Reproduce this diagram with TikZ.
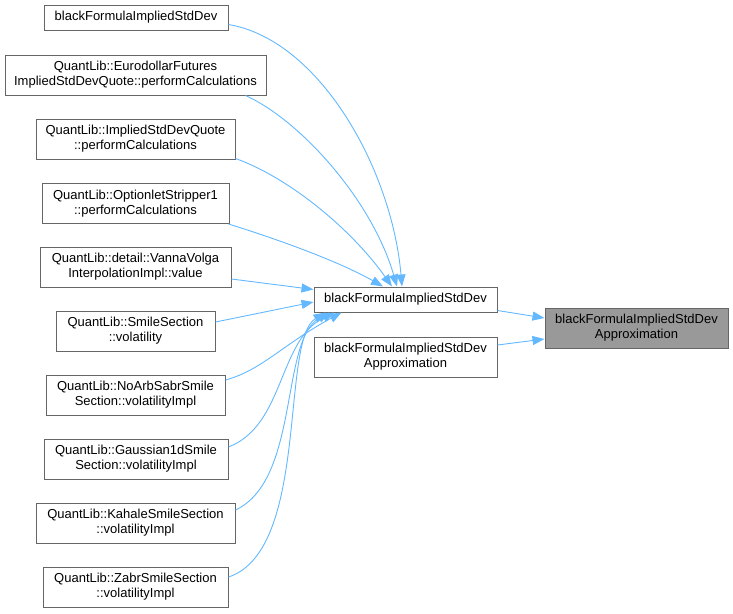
\documentclass[tikz,border=0pt]{standalone}
\usepackage{fontspec}
\setmainfont{Liberation Sans}
\usetikzlibrary{arrows.meta}
\definecolor{edgeblue}{HTML}{63B8FF}
\definecolor{boxgray}{HTML}{666666}
\definecolor{fillgray}{HTML}{999999}
\tikzset{
  fn/.style={draw=boxgray, line width=1pt, fill=white, inner sep=0pt, align=center,
    font=\fontsize{13pt}{15pt}\selectfont, text=black},
  cur/.style={fn, fill=fillgray},
  call/.style={draw=edgeblue, line width=0.9pt, -{Triangle[length=12pt,width=9pt]}},
}
\begin{document}
\begin{tikzpicture}[x=1pt,y=-1pt]
\useasboundingbox (0,0) rectangle (733,613);
% left nodes
\node[fn, minimum width=184pt, minimum height=25pt] (n1) at (136,17.5) {blackFormulaImpliedStdDev};
\node[fn, minimum width=261pt, minimum height=40pt] (n2) at (135.5,75) {QuantLib::EurodollarFutures\\ImpliedStdDevQuote::performCalculations};
\node[fn, minimum width=199pt, minimum height=40pt] (n3) at (135.5,139) {QuantLib::ImpliedStdDevQuote\\::performCalculations};
\node[fn, minimum width=187pt, minimum height=40pt] (n4) at (135.5,203.5) {QuantLib::OptionletStripper1\\::performCalculations};
\node[fn, minimum width=191pt, minimum height=40pt] (n5) at (135.5,267) {QuantLib::detail::VannaVolga\\InterpolationImpl::value};
\node[fn, minimum width=159pt, minimum height=40pt] (n6) at (135.5,331) {QuantLib::SmileSection\\::volatility};
\node[fn, minimum width=179pt, minimum height=40pt] (n7) at (135.5,395) {QuantLib::NoArbSabrSmile\\Section::volatilityImpl};
\node[fn, minimum width=184pt, minimum height=40pt] (n8) at (136,459) {QuantLib::Gaussian1dSmile\\Section::volatilityImpl};
\node[fn, minimum width=199pt, minimum height=40pt] (n9) at (135.5,523) {QuantLib::KahaleSmileSection\\::volatilityImpl};
\node[fn, minimum width=185pt, minimum height=40pt] (n10) at (135.5,587) {QuantLib::ZabrSmileSection\\::volatilityImpl};
% middle nodes
\node[fn, minimum width=183pt, minimum height=25pt] (mid) at (405.5,299.5) {blackFormulaImpliedStdDev};
\node[fn, minimum width=183pt, minimum height=40pt] (mid2) at (405.5,357) {blackFormulaImpliedStdDev\\Approximation};
\node[cur, minimum width=183pt, minimum height=40pt] (tgt) at (636.5,328) {blackFormulaImpliedStdDev\\Approximation};
% edges into mid
\draw[call] ([yshift=-7pt]n1.east) .. controls (320,40) and (392,170) .. ([xshift=-3.5pt]mid.north);
\draw[call] ([xshift=-21pt]n2.south east) .. controls (300,120) and (372,200) .. ([xshift=-8.5pt]mid.north);
\draw[call] ([yshift=1pt]n3.south east) .. controls (290,178) and (352,230) .. ([xshift=-13.5pt]mid.north);
\draw[call] ([xshift=-1pt]n4.south east) .. controls (280,240) and (340,262) .. ([xshift=-22.5pt]mid.north);
\draw[call] ([yshift=-12pt]n5.east) -- ([yshift=-3pt]mid.north west);
\draw[call] ([yshift=9pt]n6.east) -- ([yshift=-2.5pt]mid.west);
\draw[call] ([yshift=15pt]n7.east) .. controls (262,370) and (282,345) .. ([xshift=28pt]mid.south west);
\draw[call] ([yshift=12pt]n8.east) .. controls (285,425) and (278,340) .. ([xshift=21pt]mid.south west);
\draw[call] ([yshift=13pt]n9.east) .. controls (300,480) and (280,340) .. ([xshift=16pt]mid.south west);
\draw[call] ([yshift=10pt]n10.east) .. controls (310,550) and (280,340) .. ([xshift=12pt]mid.south west);
% edges into target
\draw[call] ([yshift=-11pt]mid.east) -- ([yshift=10pt]tgt.west);
\draw[call] ([yshift=12pt]mid2.east) -- ([yshift=-11pt]tgt.west);
\end{tikzpicture}
\end{document}
